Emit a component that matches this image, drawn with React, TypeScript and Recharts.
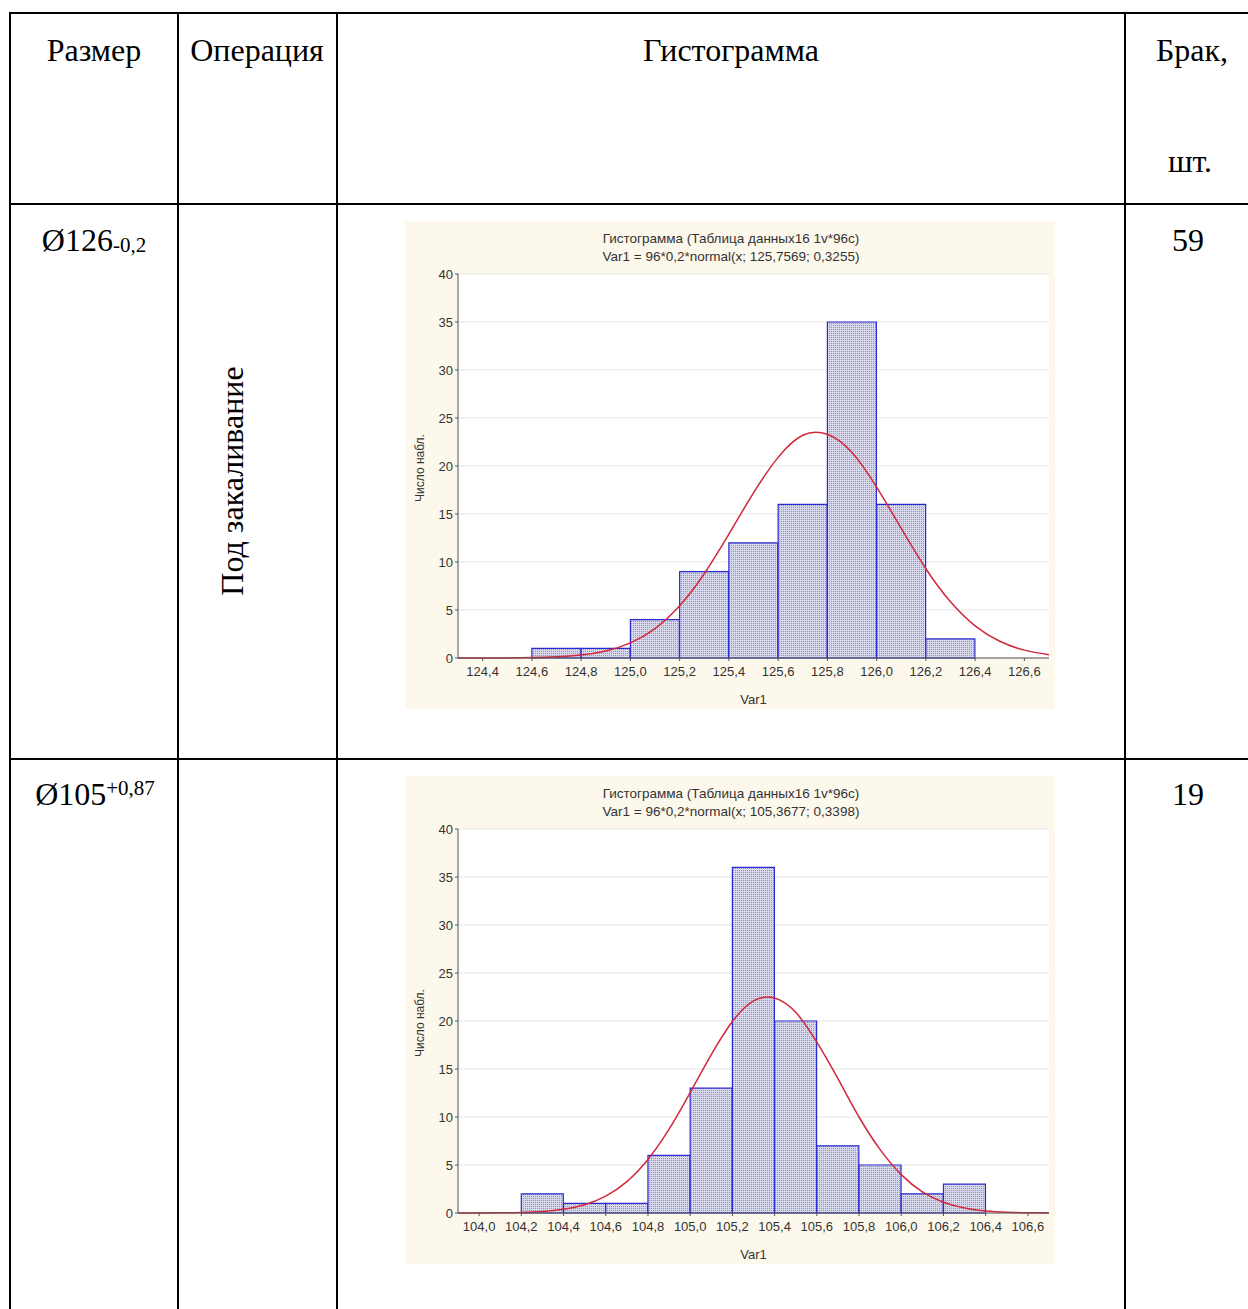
import { Bar, CartesianGrid, ComposedChart, Line, XAxis, YAxis } from 'recharts'

// Histogram 1: Ø126, bins of 0.2
const MIDS_1 = [124.7, 124.9, 125.1, 125.3, 125.5, 125.7, 125.9, 126.1, 126.3]
const COUNTS_1 = [1, 1, 4, 9, 12, 16, 35, 16, 2]
const CURVE_X_1 = [
  124.3, 124.4, 124.5, 124.6, 124.7, 124.8, 124.9, 125.0, 125.1, 125.2, 125.3, 125.4, 125.5,
  125.6, 125.7, 125.8, 125.9, 126.0, 126.1, 126.2, 126.3, 126.4, 126.5, 126.6, 126.7,
]
const CURVE_Y_1 = [
  0, 0, 0.01, 0.04, 0.12, 0.31, 0.73, 1.57, 3.07, 5.44, 8.78, 12.9, 17.2, 20.9, 23.2, 23.3, 21.4,
  17.8, 13.5, 9.3, 5.85, 3.35, 1.74, 0.82, 0.35,
]
const TICKS_X_1 = [124.4, 124.6, 124.8, 125.0, 125.2, 125.4, 125.6, 125.8, 126.0, 126.2, 126.4, 126.6]

// Histogram 2: Ø105
const MIDS_2 = [104.3, 104.5, 104.7, 104.9, 105.1, 105.3, 105.5, 105.7, 105.9, 106.1, 106.3]
const COUNTS_2 = [2, 1, 1, 6, 13, 36, 20, 7, 5, 2, 3]
const CURVE_X_2 = [
  103.9, 104.0, 104.1, 104.2, 104.3, 104.4, 104.5, 104.6, 104.7, 104.8, 104.9, 105.0, 105.1,
  105.2, 105.3, 105.4, 105.5, 105.6, 105.7, 105.8, 105.9, 106.0, 106.1, 106.2, 106.3, 106.4,
  106.5, 106.6, 106.7,
]
const CURVE_Y_2 = [
  0, 0.01, 0.02, 0.06, 0.16, 0.39, 0.86, 1.76, 3.27, 5.58, 8.73, 12.55, 16.5, 19.95, 22.1, 22.4,
  20.9, 17.8, 14.0, 10.0, 6.6, 4.0, 2.2, 1.12, 0.52, 0.22, 0.09, 0.03, 0.01,
]
const TICKS_X_2 = [
  104.0, 104.2, 104.4, 104.6, 104.8, 105.0, 105.2, 105.4, 105.6, 105.8, 106.0, 106.2, 106.4, 106.6,
]

const TICKS_Y = [0, 5, 10, 15, 20, 25, 30, 35, 40]

const SERIF = '"Liberation Serif", "Times New Roman", serif'
const SANS = '"Liberation Sans", Arial, sans-serif'

const fmt = (v: number) => v.toFixed(1).replace('.', ',')

interface HistProps {
  id: string
  left: number
  top: number
  mids: number[]
  counts: number[]
  curveX: number[]
  curveY: number[]
  ticks: number[]
  domain: [number, number]
  subtitle: string
}

function Histogram({ id, left, top, mids, counts, curveX, curveY, ticks, domain, subtitle }: HistProps) {
  const bars = mids.map((m, i) => ({ mid: m, count: counts[i] }))
  const curve = curveX.map((x, i) => ({ x, y: curveY[i] }))
  const W = 650
  const H = 488
  return (
    <div style={{ position: 'absolute', left, top, width: W, height: H, background: '#fdf8ec' }}>
      <ComposedChart
        width={W}
        height={H}
        data={bars}
        barCategoryGap={0}
        barGap={0}
        margin={{ top: 53, right: 6, bottom: 0, left: 0 }}
      >
        <defs>
          <pattern id={`pat-${id}`} width="2" height="2" patternUnits="userSpaceOnUse">
            <rect width="2" height="2" fill="#d8d8ec" />
            <rect width="1" height="1" fill="#9090c4" />
          </pattern>
        </defs>
        <CartesianGrid vertical={false} stroke="#e6e6e6" fill="#ffffff" />
        <XAxis
          type="number"
          dataKey="x"
          domain={domain}
          ticks={ticks}
          tickFormatter={fmt}
          allowDataOverflow
          height={51}
          tickSize={3}
          tickMargin={6}
          stroke="#555"
          tick={{ fill: '#333', fontSize: 13, fontFamily: SANS }}
          label={{ value: 'Var1', position: 'insideBottom', offset: 5, fill: '#333', fontSize: 13, fontFamily: SANS }}
        />
        <XAxis xAxisId="bars" type="number" dataKey="mid" domain={domain} allowDataOverflow hide />
        <XAxis
          xAxisId="top"
          orientation="top"
          type="number"
          domain={domain}
          ticks={ticks}
          allowDataOverflow
          height={0}
          tick={false}
          tickSize={4}
          mirror
          stroke="#555"
        />
        <YAxis
          domain={[0, 40]}
          ticks={TICKS_Y}
          width={53}
          tickSize={3}
          tickMargin={2}
          stroke="#555"
          tick={{ fill: '#333', fontSize: 13, fontFamily: SANS }}
        />
        <YAxis
          yAxisId="right"
          orientation="right"
          domain={[0, 40]}
          ticks={TICKS_Y}
          width={0}
          tick={false}
          tickSize={4}
          mirror
          stroke="#555"
        />
        <Bar
          xAxisId="bars"
          dataKey="count"
          fill={`url(#pat-${id})`}
          stroke="#2a2ad2"
          strokeWidth={1.2}
          isAnimationActive={false}
        />
        <Line
          data={curve}
          dataKey="y"
          type="natural"
          stroke="#d2283c"
          strokeWidth={1.5}
          dot={false}
          activeDot={false}
          isAnimationActive={false}
        />
      </ComposedChart>
      <svg
        width={W}
        height={H}
        style={{ position: 'absolute', left: 0, top: 0, pointerEvents: 'none' }}
        fontFamily={SANS}
        fontSize={13.5}
        fill="#333"
      >
        <text x={326} y={22} textAnchor="middle">Гистограмма (Таблица данных16 1v*96c)</text>
        <text x={326} y={40} textAnchor="middle">{subtitle}</text>
        <text x={19} y={247} textAnchor="middle" transform="rotate(-90 19 247)" fontSize={12}>
          Число набл.
        </text>
      </svg>
    </div>
  )
}

export default function App() {
  const lineW = 2
  return (
    <div style={{ position: 'absolute', left: 0, top: 0, width: 1248, height: 1309, overflow: 'hidden', background: '#fff' }}>
      <svg width={1248} height={1309} style={{ position: 'absolute', left: 0, top: 0 }} fontFamily={SERIF} fontSize={32} fill="#000">
        <g stroke="#000" strokeWidth={lineW}>
          <line x1={10} y1={13} x2={1260} y2={13} />
          <line x1={10} y1={204} x2={1260} y2={204} />
          <line x1={10} y1={759} x2={1260} y2={759} />
          <line x1={10} y1={12} x2={10} y2={1320} />
          <line x1={178} y1={12} x2={178} y2={1320} />
          <line x1={337} y1={12} x2={337} y2={1320} />
          <line x1={1125} y1={12} x2={1125} y2={1320} />
        </g>
        <text x={94} y={61} textAnchor="middle">Размер</text>
        <text x={257} y={61} textAnchor="middle">Операция</text>
        <text x={731} y={61} textAnchor="middle">Гистограмма</text>
        <text x={1192} y={61} textAnchor="middle">Брак,</text>
        <text x={1190} y={172} textAnchor="middle">шт.</text>

        <text x={94} y={251} textAnchor="middle">
          Ø126<tspan fontSize={21} dy={1}>-0,2</tspan>
        </text>
        <text x={1188} y={251} textAnchor="middle">59</text>
        <text x={243} y={481} textAnchor="middle" transform="rotate(-90 243 481)">Под закаливание</text>

        <text x={95} y={805} textAnchor="middle">
          Ø105<tspan fontSize={21} dy={-10}>+0,87</tspan>
        </text>
        <text x={1188} y={805} textAnchor="middle">19</text>
      </svg>

      <Histogram
        id="h1"
        left={405}
        top={221}
        mids={MIDS_1}
        counts={COUNTS_1}
        curveX={CURVE_X_1}
        curveY={CURVE_Y_1}
        ticks={TICKS_X_1}
        domain={[124.3, 126.7]}
        subtitle="Var1 = 96*0,2*normal(x; 125,7569; 0,3255)"
      />
      <Histogram
        id="h2"
        left={405}
        top={776}
        mids={MIDS_2}
        counts={COUNTS_2}
        curveX={CURVE_X_2}
        curveY={CURVE_Y_2}
        ticks={TICKS_X_2}
        domain={[103.9, 106.7]}
        subtitle="Var1 = 96*0,2*normal(x; 105,3677; 0,3398)"
      />
    </div>
  )
}
